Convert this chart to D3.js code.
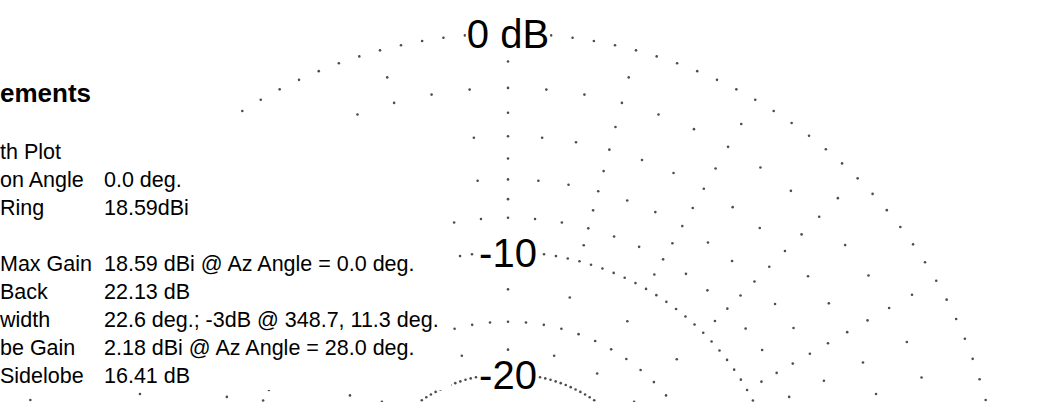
<!DOCTYPE html>
<html>
<head>
<meta charset="utf-8">
<script src="https://cdn.jsdelivr.net/npm/d3@7"></script>
<style>
  body { margin: 0; background: #fff; }
  svg { display: block; }
  .info text { font-family: "Liberation Sans", Arial, sans-serif; font-size: 21.5px; fill: #000; }
  .info .title { font-weight: bold; font-size: 26px; }
  .ring-label text { font-family: "Liberation Sans", Arial, sans-serif; font-size: 40px; fill: #000; }
</style>
</head>
<body>
<div id="chart"></div>
<script>
// grid rings (dB) and their labels
var ringLevels = [0, -10, -20, -30];
var ringLabels = ['0 dB', '-10', '-20', ''];
var ringDotStep = [2.5, 2.5, 2, 2];

// dotted radials: every 5 deg, heavier dotting every 15 deg
var radialStep = 5;
var majorEvery = 15;
var majorLevels = [-1, -2, -3, -4, -5, -6, -7, -8, -9, -12.5, -15, -17.5, -25];
var minorLevels = [-2, -4, -6, -8, -15, -25];

// info panel (its left part is cut off by the frame)
var infoTitle = 'ements';
var infoLabels = ['th Plot', 'on Angle', 'Ring', '', 'Max Gain', 'Back', 'width', 'be Gain', 'Sidelobe'];
var infoValues = ['', '0.0 deg.', '18.59dBi', '', '18.59 dBi @ Az Angle = 0.0 deg.', '22.13 dB', '22.6 deg.; -3dB @ 348.7, 11.3 deg.', '2.18 dBi @ Az Angle = 28.0 deg.', '16.41 dB'];

var width = 1062, height = 402;
var cx = 508, cy = 528, outerR = 494.5;

// ARRL log scale: radius x0.89 every 2 dB  ->  r ~ (power ratio)^0.2531
var rScale = d3.scalePow().exponent(0.2531).domain([0, 1]).range([0, outerR]);
var r = function (db) { return rScale(Math.pow(10, db / 10)); };
var rad = function (deg) { return deg * Math.PI / 180; };

var svg = d3.select('#chart').append('svg')
  .attr('width', width)
  .attr('height', height);

var plot = svg.append('g').attr('transform', 'translate(' + cx + ',' + cy + ')');

// ring dots
var ringDots = [];
ringLevels.forEach(function (db, i) {
  d3.range(0, 360, ringDotStep[i]).forEach(function (a) {
    ringDots.push(d3.pointRadial(rad(a), r(db)));
  });
});

// radial dots
var radialDots = [];
d3.range(0, 360, radialStep).forEach(function (a) {
  var levels = a % majorEvery === 0 ? majorLevels : minorLevels;
  levels.forEach(function (db) {
    radialDots.push(d3.pointRadial(rad(a), r(db)));
  });
});

plot.append('g').classed('grid', true)
  .selectAll('circle')
  .data(ringDots.concat(radialDots))
  .enter().append('circle')
  .attr('cx', function (d) { return d[0]; })
  .attr('cy', function (d) { return d[1]; })
  .attr('r', 1.3)
  .style('fill', '#4d4d4d');

// ring labels with white boxes over the dots
var labels = plot.append('g').classed('ring-label', true)
  .selectAll('g')
  .data(ringLevels.filter(function (d, i) { return ringLabels[i] !== ''; }))
  .enter().append('g');

labels.append('text')
  .attr('x', 0)
  .attr('y', function (d) { return -r(d) + 14.8; })
  .attr('text-anchor', 'middle')
  .text(function (d) { return ringLabels[ringLevels.indexOf(d)]; });

labels.each(function () {
  var g = d3.select(this);
  var b = g.select('text').node().getBBox();
  g.insert('rect', 'text')
    .attr('x', b.x - 1)
    .attr('y', b.y)
    .attr('width', b.width + 2)
    .attr('height', b.height)
    .style('fill', '#fff');
});

// info panel, on its own white box over the grid
var info = svg.append('g').classed('info', true);

info.append('rect')
  .attr('x', 0)
  .attr('y', 118)
  .attr('width', 451)
  .attr('height', 272)
  .style('fill', '#fff');

info.append('text').classed('title', true)
  .attr('x', 0)
  .attr('y', 102)
  .text(infoTitle);

var rows = info.selectAll('g.row')
  .data(infoLabels)
  .enter().append('g').classed('row', true)
  .attr('transform', function (d, i) { return 'translate(0,' + (159 + i * 28) + ')'; });

rows.append('text')
  .attr('x', 0)
  .text(function (d) { return d; });

rows.append('text')
  .attr('x', 104)
  .text(function (d, i) { return infoValues[i]; });
</script>
</body>
</html>
